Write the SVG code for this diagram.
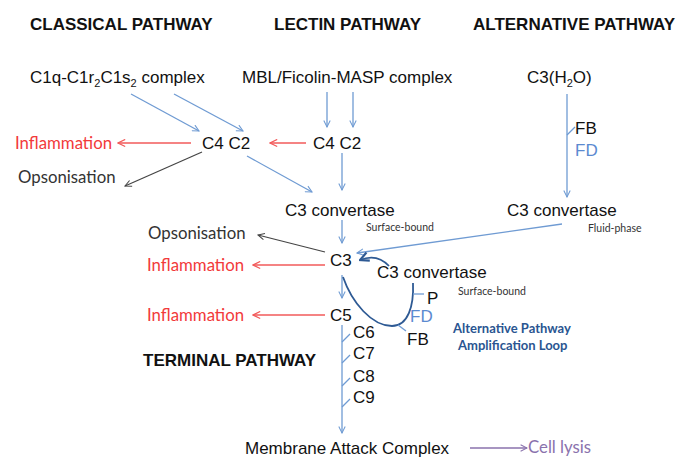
<svg xmlns="http://www.w3.org/2000/svg" width="683" height="461" viewBox="0 0 683 461">
<defs>
<style>
.t{font-family:"Liberation Sans",Arial,sans-serif;font-size:17px;fill:#111}
.h{font-family:"Liberation Sans",Arial,sans-serif;font-size:17px;font-weight:bold;fill:#111}
.c{font-family:Lato,"Open Sans",sans-serif;font-size:16.8px}
.red{fill:#f23a3a}
.grey{fill:#333}
.sm{font-family:Lato,"Open Sans",sans-serif;font-size:10.5px;fill:#333}
.fd{fill:#5b8ad0}
.amp{font-family:Lato,"Open Sans",sans-serif;font-size:13px;font-weight:bold;fill:#2a5591}
.lb{stroke:#6f9bd3;stroke-width:1.3;fill:none}
.rd{stroke:#f25a5a;stroke-width:1.3;fill:none}
.bk{stroke:#444;stroke-width:1.2;fill:none}
.db{stroke:#2e5a94;stroke-width:1.8;fill:none}
.pu{stroke:#8a72ad;stroke-width:1.3;fill:none}
</style>
<marker id="aB" viewBox="0 0 10 10" refX="9" refY="5" markerWidth="8" markerHeight="8" orient="auto" markerUnits="userSpaceOnUse"><path d="M1,1 L9,5 L1,9" fill="none" stroke="#6f9bd3" stroke-width="1.3"/></marker>
<marker id="aR" viewBox="0 0 10 10" refX="9" refY="5" markerWidth="9" markerHeight="9" orient="auto" markerUnits="userSpaceOnUse"><path d="M1,1 L9,5 L1,9" fill="none" stroke="#f25a5a" stroke-width="1.3"/></marker>
<marker id="aK" viewBox="0 0 10 10" refX="9" refY="5" markerWidth="8" markerHeight="8" orient="auto" markerUnits="userSpaceOnUse"><path d="M1,1 L9,5 L1,9" fill="none" stroke="#444" stroke-width="1.3"/></marker>
<marker id="aD" viewBox="0 0 10 10" refX="9" refY="5" markerWidth="11" markerHeight="11" orient="auto" markerUnits="userSpaceOnUse"><path d="M1,1 L9,5 L1,9" fill="none" stroke="#2e5a94" stroke-width="2"/></marker>
<marker id="aP" viewBox="0 0 10 10" refX="9" refY="5" markerWidth="8" markerHeight="8" orient="auto" markerUnits="userSpaceOnUse"><path d="M1,1 L9,5 L1,9" fill="none" stroke="#8a72ad" stroke-width="1.3"/></marker>
</defs>
<rect width="683" height="461" fill="#fff"/>

<g id="titles">
<text class="h" x="30" y="30">CLASSICAL PATHWAY</text>
<text class="h" x="274" y="30">LECTIN PATHWAY</text>
<text class="h" x="473" y="30">ALTERNATIVE PATHWAY</text>
<text class="h" x="143" y="366">TERMINAL PATHWAY</text>
</g>

<g id="c1">
<text class="t" x="30" y="83">C1q-C1r<tspan font-size="11" dy="4">2</tspan><tspan dy="-4">C1s</tspan><tspan font-size="11" dy="4">2</tspan><tspan dy="-4"> complex</tspan></text>
</g>
<g id="mbl"><text class="t" x="242" y="83">MBL/Ficolin-MASP complex</text></g>
<g id="c3h2o"><text class="t" x="527" y="83">C3(H<tspan font-size="11" dy="4">2</tspan><tspan dy="-4">O)</tspan></text></g>

<g id="c4c2-classical"><text class="t" x="202" y="149">C4 C2</text></g>
<g id="c4c2-lectin"><text class="t" x="313" y="149">C4 C2</text></g>
<g id="inflammation1"><text class="c red" x="15" y="149">Inflammation</text></g>
<g id="opsonisation1"><text class="c grey" x="18" y="183">Opsonisation</text></g>

<g id="fb-alt"><text class="t" x="575" y="134">FB</text></g>
<g id="fd-alt"><text class="t fd" x="575" y="156">FD</text></g>

<g id="c3conv-surface">
<text class="t" x="285" y="216">C3 convertase</text>
<text class="sm" x="366" y="231">Surface-bound</text>
</g>
<g id="c3conv-fluid">
<text class="t" x="507" y="216">C3 convertase</text>
<text class="sm" x="588" y="232">Fluid-phase</text>
</g>

<g id="c3"><text class="t" x="330" y="266">C3</text></g>
<g id="opsonisation2"><text class="c grey" x="148" y="239">Opsonisation</text></g>
<g id="inflammation2"><text class="c red" x="147" y="271">Inflammation</text></g>

<g id="c3conv-loop">
<text class="t" x="377" y="278">C3 convertase</text>
<text class="sm" x="458" y="295">Surface-bound</text>
</g>
<g id="p"><text class="t" x="427" y="304">P</text></g>
<g id="fd-loop"><text class="t fd" x="410" y="322">FD</text></g>
<g id="fb-loop"><text class="t" x="407" y="345">FB</text></g>
<g id="amp-label">
<text class="amp" x="453" y="333">Alternative Pathway</text>
<text class="amp" x="458" y="350">Amplification Loop</text>
</g>

<g id="c5"><text class="t" x="330" y="321">C5</text></g>
<g id="inflammation3"><text class="c red" x="147" y="321">Inflammation</text></g>
<g id="c6"><text class="t" x="353" y="338">C6</text></g>
<g id="c7"><text class="t" x="353" y="359">C7</text></g>
<g id="c8"><text class="t" x="353" y="382">C8</text></g>
<g id="c9"><text class="t" x="353" y="403">C9</text></g>

<g id="mac"><text class="t" x="245" y="454">Membrane Attack Complex</text></g>
<g id="lysis"><text class="c" x="528" y="453" font-size="16" fill="#8a72ad">Cell lysis</text></g>

<g id="connectors">
<line class="lb" x1="131" y1="94" x2="199" y2="131" marker-end="url(#aB)"/>
<line class="lb" x1="174" y1="94" x2="243" y2="131" marker-end="url(#aB)"/>
<line class="lb" x1="327" y1="92" x2="327" y2="127" marker-end="url(#aB)"/>
<line class="lb" x1="353" y1="92" x2="353" y2="127" marker-end="url(#aB)"/>
<line class="rd" x1="191" y1="143" x2="118" y2="143" marker-end="url(#aR)"/>
<line class="rd" x1="306" y1="143" x2="270" y2="143" marker-end="url(#aR)"/>
<line class="bk" x1="202" y1="152" x2="125" y2="186" marker-end="url(#aK)"/>
<line class="lb" x1="247" y1="156" x2="312" y2="192" marker-end="url(#aB)"/>
<line class="lb" x1="342" y1="153" x2="342" y2="190" marker-end="url(#aB)"/>
<line class="lb" x1="567" y1="94" x2="567" y2="197" marker-end="url(#aB)"/>
<line class="lb" x1="567" y1="135" x2="575" y2="127"/>
<line class="lb" x1="562" y1="224" x2="357" y2="253" marker-end="url(#aB)"/>
<line class="lb" x1="342" y1="220" x2="342" y2="243" marker-end="url(#aB)"/>
<line class="bk" x1="325" y1="252" x2="258" y2="235" marker-end="url(#aK)"/>
<line class="rd" x1="325" y1="265" x2="253" y2="265" marker-end="url(#aR)"/>
<path class="db" d="M389,266 Q377,253 360,260" marker-end="url(#aD)"/>
<line class="lb" x1="342" y1="275" x2="342" y2="298" marker-end="url(#aB)"/>
<path class="db" d="M343,277 C352,303 372,326 392,326 C408,326 414,306 413,283"/>
<line class="lb" x1="413" y1="294" x2="424" y2="294"/>
<line class="lb" x1="398" y1="325" x2="406" y2="331"/>
<line class="rd" x1="325" y1="315" x2="253" y2="315" marker-end="url(#aR)"/>
<line class="lb" x1="342" y1="325" x2="342" y2="433" marker-end="url(#aB)"/>
<line class="lb" x1="342" y1="342" x2="350" y2="334"/>
<line class="lb" x1="342" y1="363" x2="350" y2="355"/>
<line class="lb" x1="342" y1="386" x2="350" y2="378"/>
<line class="lb" x1="342" y1="407" x2="350" y2="399"/>
<line class="pu" x1="470" y1="448" x2="527" y2="448" marker-end="url(#aP)"/>
</g>
</svg>
